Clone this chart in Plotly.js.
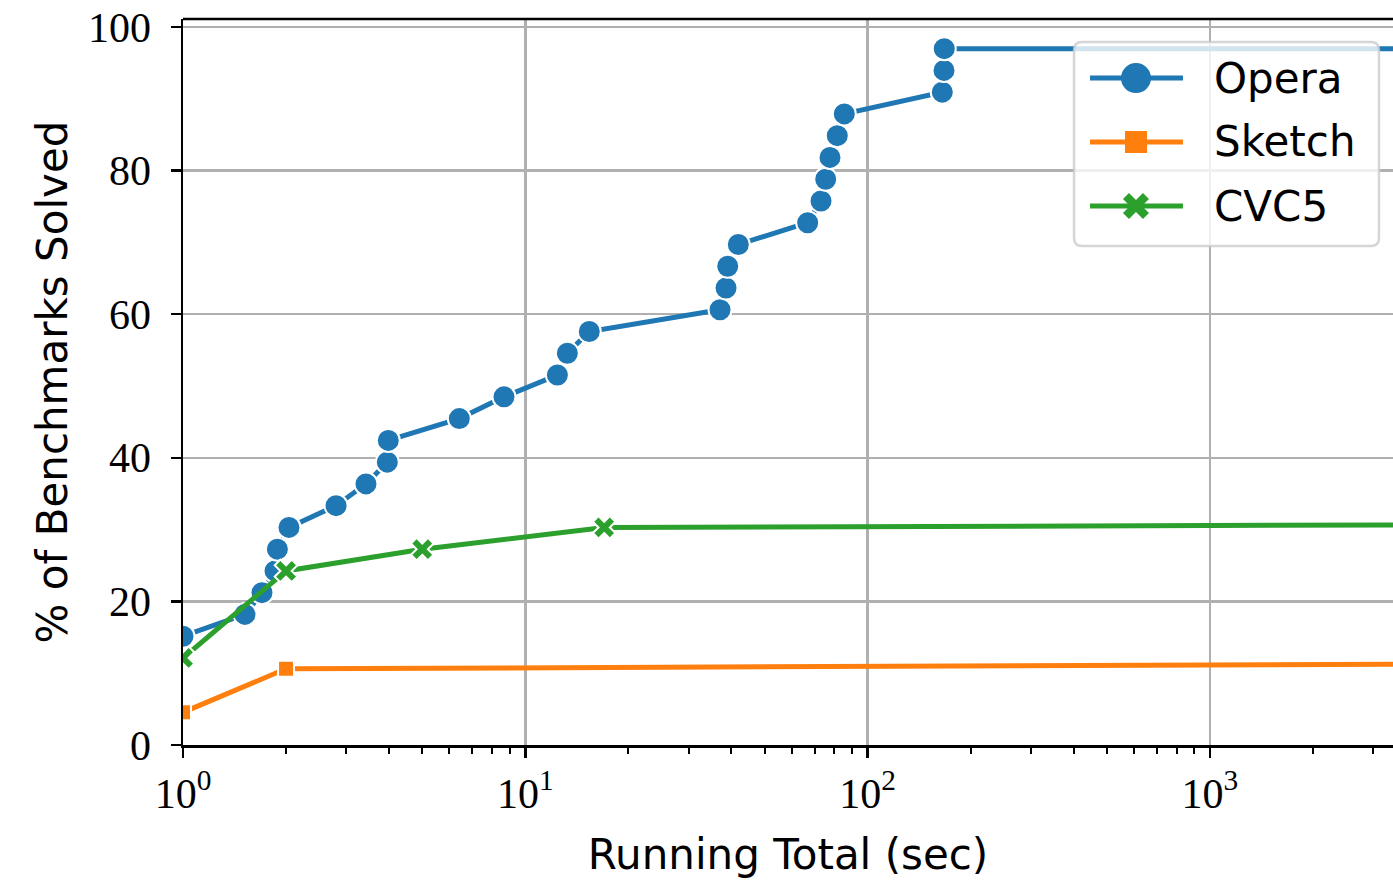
<!DOCTYPE html>
<html>
<head>
<meta charset="utf-8">
<script src="https://cdn.plot.ly/plotly-3.0.1.min.js"></script>
<style>
  html, body { margin: 0; padding: 0; background: #ffffff; }
  #chart { width: 1393px; height: 882px; }
</style>
</head>
<body>
<div id="chart"></div>
<script>
// Running total time (sec) and % of benchmarks solved
const operaTime = [1.0, 1.517, 1.701, 1.857, 1.887, 2.04, 2.80, 3.424, 3.953, 3.979,
  6.415, 8.665, 12.41, 13.27, 15.38, 37.06, 38.59, 39.03, 41.91, 66.83,
  73.1, 75.44, 77.66, 81.56, 85.5, 165.3, 167.2, 167.5, 10000];
const operaSolved = [15.15, 18.18, 21.21, 24.24, 27.27, 30.30, 33.33, 36.36, 39.39, 42.42,
  45.45, 48.48, 51.52, 54.55, 57.58, 60.61, 63.64, 66.67, 69.70, 72.73,
  75.76, 78.79, 81.82, 84.85, 87.88, 90.91, 93.94, 96.97, 96.97];

const sketchTime = [1.0, 2.0, 10000];
const sketchSolved = [4.55, 10.61, 11.33];

const cvc5Time = [1.0, 2.0, 5.0, 17.0, 10000];
const cvc5Solved = [12.12, 24.24, 27.27, 30.30, 30.71];

const xTickVals = [1, 10, 100, 1000];
const xTickText = ['10<sup>0</sup>', '10<sup>1</sup>', '10<sup>2</sup>', '10<sup>3</sup>'];
const yTickVals = [0, 20, 40, 60, 80, 100];
const yTickText = ['0', '20', '40', '60', '80', '100'];

const seriesNames = ['Opera', 'Sketch', 'CVC5'];
const colors = ['#1f77b4', '#ff7f0e', '#2ca02c'];

// points beyond the visible x range are only line ends, no marker
const markerSizes = (times, s) => times.map(t => t < 5000 ? s : 0);

const traces = [
  {
    x: operaTime, y: operaSolved, name: seriesNames[0], type: 'scatter', mode: 'lines+markers',
    line: {color: colors[0], width: 5},
    marker: {symbol: 'circle', size: markerSizes(operaTime, 23), color: colors[0], opacity: 1,
             line: {color: '#ffffff', width: 2}},
    showlegend: false
  },
  {
    x: sketchTime, y: sketchSolved, name: seriesNames[1], type: 'scatter', mode: 'lines+markers',
    line: {color: colors[1], width: 5},
    marker: {symbol: 'square', size: markerSizes(sketchTime, 16), color: colors[1], opacity: 1,
             line: {color: '#ffffff', width: 2}},
    showlegend: false
  },
  {
    x: cvc5Time, y: cvc5Solved, name: seriesNames[2], type: 'scatter', mode: 'lines+markers',
    line: {color: colors[2], width: 5},
    marker: {symbol: 'x', size: markerSizes(cvc5Time, 20), color: colors[2], opacity: 1,
             line: {color: '#ffffff', width: 2}},
    showlegend: false
  }
];

const tickFont = {family: '"Liberation Serif", "DejaVu Serif", serif', size: 42, color: '#000000'};
const labelFont = {family: '"DejaVu Sans", sans-serif', size: 42, color: '#000000'};

// ---- custom legend (matplotlib style) ----
const L = {x0: 0.7364, x1: 0.9884, y0: 0.6873, y1: 0.9683, rx: 0.0066, ry: 0.011};
const legendRowsY = [0.9187, 0.8306, 0.7424];
const legLineX0 = 0.7496, legLineX1 = 0.8264, legMarkX = 0.7876, legTextX = 0.8505;

const boxPath =
  `M ${L.x0 + L.rx},${L.y1} L ${L.x1 - L.rx},${L.y1} Q ${L.x1},${L.y1} ${L.x1},${L.y1 - L.ry} ` +
  `L ${L.x1},${L.y0 + L.ry} Q ${L.x1},${L.y0} ${L.x1 - L.rx},${L.y0} ` +
  `L ${L.x0 + L.rx},${L.y0} Q ${L.x0},${L.y0} ${L.x0},${L.y0 + L.ry} ` +
  `L ${L.x0},${L.y1 - L.ry} Q ${L.x0},${L.y1} ${L.x0 + L.rx},${L.y1} Z`;

const shapes = [
  {type: 'line', xref: 'paper', yref: 'paper', x0: 0, x1: 1, y0: 1, y1: 1,
   line: {color: '#000000', width: 2.5}},
  {type: 'path', xref: 'paper', yref: 'paper', path: boxPath, layer: 'above',
   fillcolor: 'rgba(255,255,255,0.8)', line: {color: 'rgba(204,204,204,0.8)', width: 2.5}}
];
legendRowsY.forEach((yy, i) => {
  shapes.push({type: 'line', xref: 'paper', yref: 'paper', x0: legLineX0, x1: legLineX1, y0: yy, y1: yy,
               layer: 'above', line: {color: colors[i], width: 5}});
});
// legend markers (pixel sized, anchored at the marker centre)
shapes.push({type: 'circle', xref: 'paper', yref: 'paper', xsizemode: 'pixel', ysizemode: 'pixel',
  xanchor: legMarkX, yanchor: legendRowsY[0], x0: -15, x1: 15, y0: -15, y1: 15, layer: 'above',
  fillcolor: colors[0], line: {width: 0}});
shapes.push({type: 'rect', xref: 'paper', yref: 'paper', xsizemode: 'pixel', ysizemode: 'pixel',
  xanchor: legMarkX, yanchor: legendRowsY[1], x0: -11, x1: 11, y0: -11, y1: 11, layer: 'above',
  fillcolor: colors[1], line: {width: 0}});
shapes.push({type: 'path', xref: 'paper', yref: 'paper', xsizemode: 'pixel', ysizemode: 'pixel',
  xanchor: legMarkX, yanchor: legendRowsY[2], layer: 'above',
  path: 'M -13,-7 L -7,-13 L 0,-6 L 7,-13 L 13,-7 L 6,0 L 13,7 L 7,13 L 0,6 L -7,13 L -13,7 L -6,0 Z',
  fillcolor: colors[2], line: {width: 0}});

const annotations = legendRowsY.map((yy, i) => ({
  xref: 'paper', yref: 'paper', x: legTextX, y: yy, xanchor: 'left', yanchor: 'middle',
  text: seriesNames[i], showarrow: false, font: labelFont
}));

const layout = {
  width: 1393, height: 882,
  margin: {l: 183, r: 0, t: 19, b: 137, pad: 0},
  paper_bgcolor: '#ffffff', plot_bgcolor: '#ffffff',
  showlegend: false,
  xaxis: {
    type: 'log', range: [0, 3.535],
    tickvals: xTickVals, ticktext: xTickText,
    ticks: 'outside', ticklen: 10, tickwidth: 2.5, tickcolor: '#000000',
    showline: true, linecolor: '#000000', linewidth: 2.5,
    showgrid: true, gridcolor: '#b0b0b0', gridwidth: 2.5,
    zeroline: false, tickfont: tickFont,
    minor: {ticks: 'outside', ticklen: 6, tickwidth: 2, tickcolor: '#000000', dtick: 'D1', showgrid: false},
    title: {text: 'Running Total (sec)', font: labelFont, standoff: 24}
  },
  yaxis: {
    range: [0, 101.1],
    tickvals: yTickVals, ticktext: yTickText,
    ticks: 'outside', ticklen: 10, tickwidth: 2.5, tickcolor: '#000000',
    showline: true, linecolor: '#000000', linewidth: 2.5,
    showgrid: true, gridcolor: '#b0b0b0', gridwidth: 2.5,
    zeroline: false, tickfont: tickFont, ticklabelstandoff: 11,
    title: {text: '% of Benchmarks Solved', font: labelFont, standoff: 8}
  },
  shapes: shapes,
  annotations: annotations
};

Plotly.newPlot('chart', traces, layout, {staticPlot: true, displayModeBar: false});
</script>
</body>
</html>
